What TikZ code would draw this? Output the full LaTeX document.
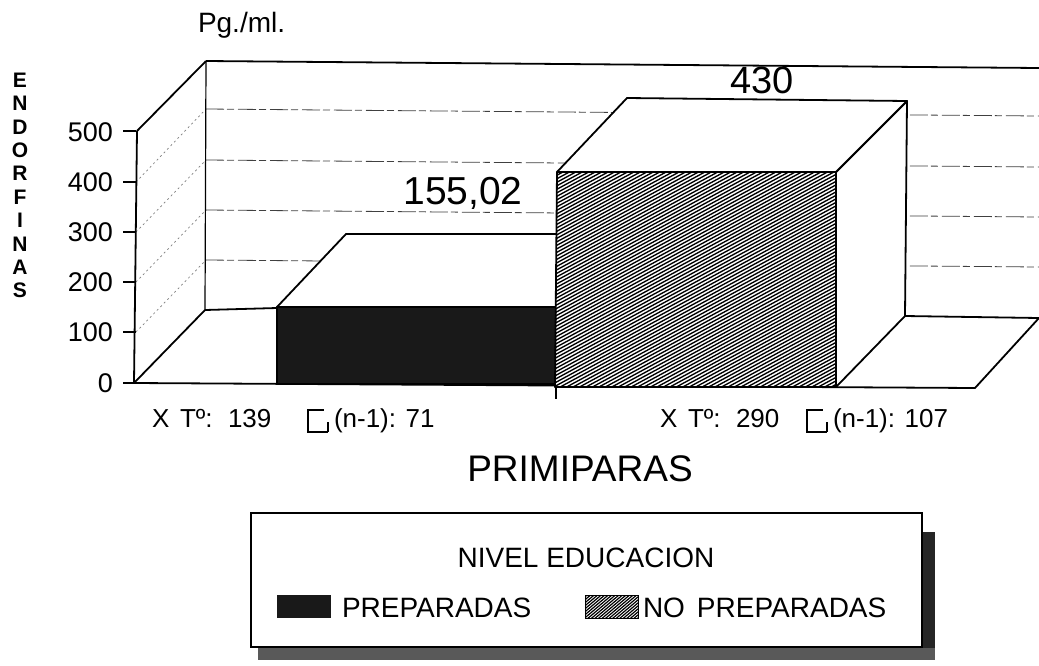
\documentclass[tikz,border=0pt]{standalone}
\usepackage{fontspec}
\setmainfont{Liberation Sans}
\newcommand\myfs[1]{\fontsize{#1}{#1}\selectfont}
\begin{document}
\begin{tikzpicture}[x=1pt,y=-1pt,
  outline/.style={line width=1.8pt, line join=round},
  backline/.style={line width=1.2pt},
  gridback/.style={line width=0.8pt, black!75, dash pattern=on 18pt off 3pt on 7pt off 4pt},
  gridside/.style={line width=0.7pt, black!50, dash pattern=on 2pt off 3pt},
  hatchline/.style={line width=1.35pt, black},
  txt/.style={inner sep=0pt, outer sep=0pt},
  darkfill/.style={fill=black!90},
  sigmasym/.style={line width=1.3pt},
]
\useasboundingbox (0,0) rectangle (1039,665);
\fill[white] (0,0) rectangle (1039,665);

% key corners
\coordinate (A0) at (134,383);
\coordinate (A5) at (137,131);
\coordinate (B0) at (205,310);
\coordinate (B5) at (206,61);
\coordinate (BR5) at (1039,68);
\coordinate (BR0) at (1039,318);
\coordinate (FR) at (975,388);

% back wall grid lines
\foreach \yl/\yr in {260/267,210/217,160/167,109/116}
  \draw[gridback] (206,\yl) -- (1039,\yr);
% left wall dotted diagonals
\foreach \yf/\yb in {332/260,282/210,232/160,182/109}
  \draw[gridside] (136,\yf) -- (206,\yb);

% back wall frame
\draw[outline] (B5) -- (BR5);
\draw[backline] (B5) -- (B0);
\draw[outline] (A5) -- (B5);
\draw[outline] (A0) -- (B0);
\draw[outline] (B0) -- (277,308);
\draw[outline] (905,316) -- (BR0);

% floor
\draw[outline] (A0) -- (FR) -- (BR0);

% dark bar
\draw[outline, fill=white] (277,307) -- (346,234) -- (557,234) -- (557,307) -- cycle;
\draw[outline, darkfill] (277,307) rectangle (557,384);

% hatched bar
\draw[outline, fill=white] (836,172) -- (907,101) -- (905,316) -- (836,387) -- cycle;
\draw[outline, fill=white] (557,172) -- (627,98) -- (907,101) -- (836,172) -- cycle;
\begin{scope}
  \clip (557,172) -- (836,172) -- (836,387) -- (555,387) -- cycle;
  \fill[white] (550,165) rectangle (845,395);
  \foreach \b in {172,175.5,...,560}
    \draw[hatchline] (550,\b) -- (845,\b-160);
\end{scope}
\draw[outline] (557,172) -- (836,172) -- (836,387) -- (555,387) -- cycle;

% front axis and ticks
\draw[outline] (A0) -- (A5);
\foreach \y in {383,332,282,232,182,131}
  \draw[outline] (123,\y) -- (136,\y);
\draw[backline] (556,388) -- (556,399);

% tick labels
\node[txt, anchor=east] (t0) at (113,383) {\myfs{27}0};
\node[txt, anchor=east] (t1) at (113,332) {\myfs{27}100};
\node[txt, anchor=east] (t2) at (113,282) {\myfs{27}200};
\node[txt, anchor=east] (t3) at (113,232) {\myfs{27}300};
\node[txt, anchor=east] (t4) at (113,182) {\myfs{27}400};
\node[txt, anchor=east] (t5) at (113,132) {\myfs{27}500};

% vertical axis title
\foreach \l [count=\i from 0] in {E,N,D,O,R,F,I,N,A,S}
  \node[txt] (yl\i) at (20,{80+23.4*\i}) {\myfs{21}\bfseries\l};

% unit
\node[txt, anchor=base west] (unit) at (198,32) {\myfs{28}Pg./ml.};

% value labels
\node[txt, anchor=base] (v1) at (463,204) {\myfs{39}155,02};
\node[txt, anchor=base] (v2) at (762,93) {\myfs{38}430};

% statistics row
\node[txt, anchor=base west] (s1x) at (152,427) {\myfs{26}X};
\node[txt, anchor=base west] (s1t) at (180,427) {\myfs{26}Tº:};
\node[txt, anchor=base west] (s1v) at (228,427) {\myfs{26}139};
\draw[sigmasym] (307,410) -- (324,410) (308,410) -- (308,432) -- (328,432) (328,422) -- (328,432);
\node[txt, anchor=base west] (s1n) at (334,427) {\myfs{26}(n-1): 71};

\node[txt, anchor=base west] (s2x) at (660,427) {\myfs{26}X};
\node[txt, anchor=base west] (s2t) at (688,427) {\myfs{26}Tº:};
\node[txt, anchor=base west] (s2v) at (736,427) {\myfs{26}290};
\draw[sigmasym] (806,410) -- (823,410) (807,410) -- (807,432) -- (827,432) (827,422) -- (827,432);
\node[txt, anchor=base west] (s2n) at (833,427) {\myfs{26}(n-1): 107};

% category
\node[txt, anchor=base] (cat) at (580,481) {\myfs{37}PRIMIPARAS};

% legend
\fill[black!85] (923,532) rectangle (935,660);
\fill[black!65] (258,648) rectangle (935,660);
\draw[backline, fill=white] (251,513) rectangle (922,647);
\node[txt, anchor=base] (lt) at (586,567) {\myfs{28}NIVEL EDUCACION};
\fill[darkfill] (277,595) rectangle (331,618);
\node[txt, anchor=base west] (l1) at (342,617) {\myfs{28}PREPARADAS};
\begin{scope}
  \clip (585,595) rectangle (638,618);
  \fill[white] (585,595) rectangle (638,618);
  \foreach \b in {595,598,...,670}
    \draw[line width=1.2pt] (580,\b) -- (645,\b-55);
\end{scope}
\draw[line width=0.6pt] (585,595) rectangle (638,618);
\node[txt, anchor=base west] (l2) at (643,617) {\myfs{28}NO\hspace{12pt}PREPARADAS};
\end{tikzpicture}
\end{document}
